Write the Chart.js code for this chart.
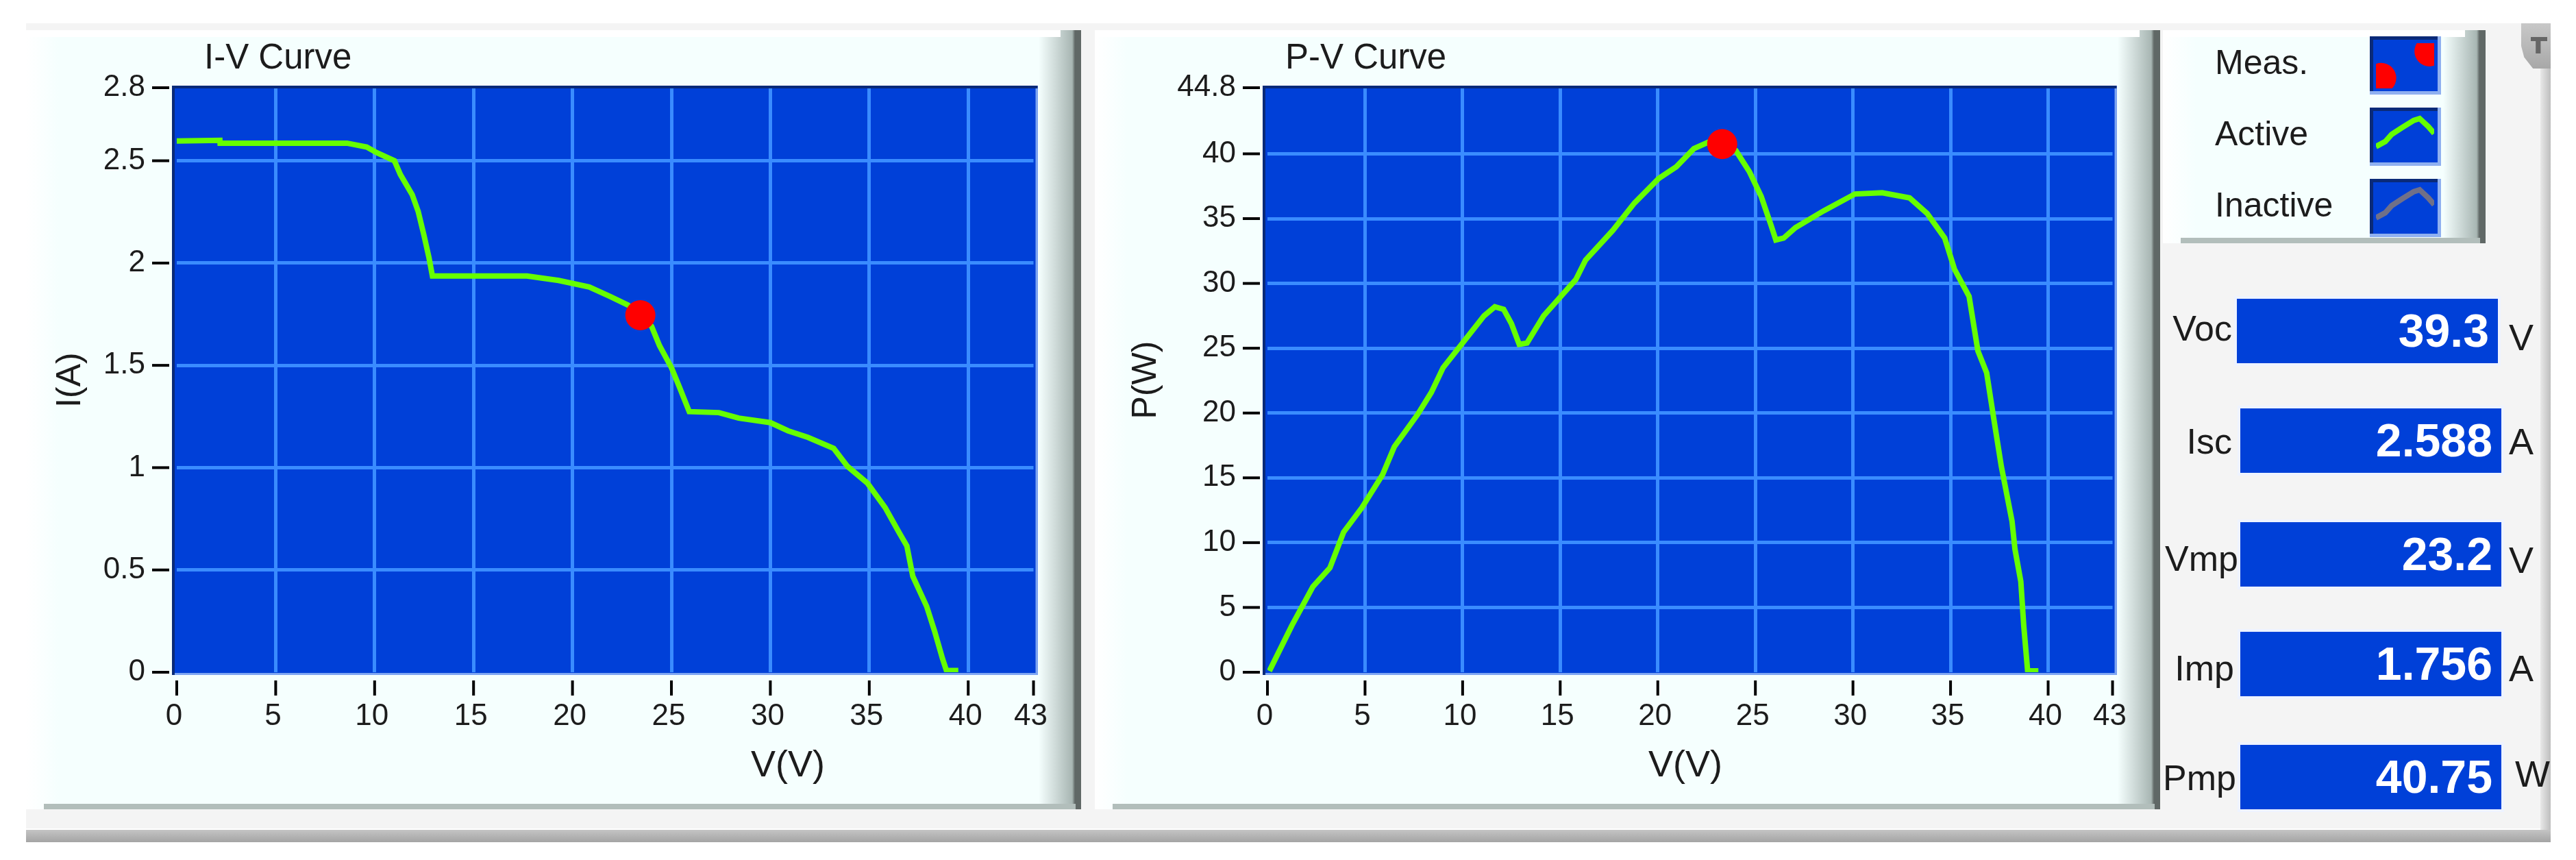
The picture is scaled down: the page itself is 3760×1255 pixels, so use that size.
<!DOCTYPE html>
<html>
<head>
<meta charset="utf-8">
<script src="https://cdn.jsdelivr.net/npm/chart.js@4/dist/chart.umd.min.js"></script>
<style>
html, body { margin: 0; padding: 0; background: #fff; overflow: hidden; }
body { width: 3760px; height: 1255px; position: relative; font-family: "Liberation Sans", Arial, sans-serif; color: #1c1c1c; }
.abs, canvas { position: absolute; }
#backdrop { left: 38px; top: 34px; width: 3685px; height: 1175px; background: #f4f4f4; }
#baseline { left: 38px; top: 1211px; width: 3685px; height: 18px; background: linear-gradient(#c4c4c4, #a4a4a4); }
#rightEdge { left: 3708px; top: 90px; width: 15px; height: 1121px; background: linear-gradient(to right, #e8e8e8, #bebebe); }
#grip { left: 3680px; top: 34px; width: 43px; height: 66px; background: linear-gradient(#c8c8c8, #a8a8a8); clip-path: polygon(0 0, 100% 0, 100% 100%, 40% 100%, 10% 75%, 0 50%); }
#grip span { position: absolute; left: 14px; top: 20px; width: 24px; height: 24px; background: #666; clip-path: polygon(0 0, 100% 0, 100% 25%, 60% 25%, 60% 100%, 30% 100%, 30% 25%, 0 25%); }
.panel { background: linear-gradient(#fff, #fff) top left / calc(100% - 30px) 10px no-repeat, linear-gradient(to right, #fff 0, #f5fffe 48px, #f5fffe calc(100% - 62px), #a8b6b3 calc(100% - 13px), #606866 calc(100% - 9px), #606866 100%); }
.panel i { position: absolute; left: 26px; right: 8px; bottom: 0; height: 8px; background: #b2bebb; }
.label { font-size: 50px; line-height: 50px; white-space: nowrap; }
.bar { width: 381px; height: 94px; background: #0040d8; box-shadow: 0 0 0 4px #eef3ff; color: #fff; font-weight: bold; font-size: 68px; line-height: 92px; text-align: right; }
.bar span { padding-right: 13px; }
</style>
</head>
<body>
<div class="abs" id="backdrop"></div>
<div class="abs" id="baseline"></div>
<div class="abs" id="rightEdge"></div>
<div class="abs" id="grip"><span></span></div>
<div class="abs panel" style="left:38px;top:44px;width:1540px;height:1137px"><i></i></div>
<div class="abs panel" style="left:1598px;top:44px;width:1555px;height:1137px"><i></i></div>
<div class="abs panel" style="left:3157px;top:44px;width:471px;height:311px"><i></i></div>
<canvas id="ivChart" width="1533" height="1133" style="left:38px;top:44px"></canvas>
<canvas id="pvChart" width="1548" height="1133" style="left:1598px;top:44px"></canvas>
<canvas id="swMeas" width="104" height="85" style="left:3459px;top:53px"></canvas>
<canvas id="swActive" width="104" height="85" style="left:3459px;top:157px"></canvas>
<canvas id="swInactive" width="104" height="85" style="left:3459px;top:261px"></canvas>
<div id="readouts"></div>
<script>
/* data */
const ivVolts = [0, 2.18, 2.19, 8.6, 9.6, 10.1, 11, 11.3, 11.9, 12.2, 12.5, 12.75, 12.92, 17.7, 19.3, 20.85, 21.9, 22.8, 23.4, 24, 24.4, 25, 25.4, 25.9, 27.4, 28.4, 30, 30.9, 31.9, 33.2, 33.9, 34.9, 35.8, 36.5, 36.9, 37.2, 37.9, 38.3, 38.7, 38.9, 39.5];
const ivAmps = [2.597, 2.6, 2.586, 2.586, 2.567, 2.54, 2.5, 2.433, 2.334, 2.253, 2.133, 2.025, 1.937, 1.937, 1.915, 1.883, 1.837, 1.795, 1.745, 1.69, 1.596, 1.489, 1.395, 1.274, 1.269, 1.242, 1.22, 1.18, 1.148, 1.094, 1.006, 0.925, 0.805, 0.684, 0.617, 0.469, 0.322, 0.201, 0.067, 0.008, 0.008];
const pvVolts = [0.1, 1.25, 2.33, 3.2, 3.9, 4.84, 5.9, 6.5, 7.7, 8.4, 9, 10, 11.1, 11.65, 12.1, 12.5, 12.9, 13.3, 14.15, 15.8, 16.3, 17.7, 18.8, 20.05, 20.95, 21.85, 22.6, 23.3, 24, 24.7, 25.3, 25.8, 26.05, 26.45, 27.05, 28.5, 30.1, 31.5, 32.9, 33.8, 34.7, 35.2, 35.95, 36.4, 36.85, 37.2, 37.6, 38.15, 38.3, 38.6, 38.75, 38.95, 39.5];
const pvWatts = [0.1, 3.6, 6.6, 8.05, 10.8, 12.7, 15.25, 17.4, 19.9, 21.6, 23.5, 25.4, 27.5, 28.2, 28, 26.9, 25.3, 25.4, 27.5, 30.3, 31.8, 34.1, 36.2, 38.1, 39, 40.4, 40.9, 40.75, 40.25, 38.6, 36.7, 34.5, 33.35, 33.5, 34.3, 35.6, 36.9, 37, 36.6, 35.4, 33.5, 31.1, 29, 24.8, 23.1, 19.7, 15.9, 11.65, 9.5, 7, 3.6, 0.1, 0.1];

const ivMarker = [{ x: 23.43, y: 1.745 }];
const pvMarker = [{ x: 23.3, y: 40.75 }];

/* the top and right ticks sit a little past their printed value */
const xTickValues = [0, 5, 10, 15, 20, 25, 30, 35, 40, 43.3];
const xTickLabels = ["0", "5", "10", "15", "20", "25", "30", "35", "40", "43"];
const ivTickValues = [0, 0.5, 1, 1.5, 2, 2.5, 2.857];
const ivTickLabels = ["0", "0.5", "1", "1.5", "2", "2.5", "2.8"];
const pvTickValues = [0, 5, 10, 15, 20, 25, 30, 35, 40, 45.1];
const pvTickLabels = ["0", "5", "10", "15", "20", "25", "30", "35", "40", "44.8"];

const legendLabels = ["Meas.", "Active", "Inactive"];
const legendTops = [66, 170, 274];
const swatchX = [0, 0.16, 0.27, 0.45, 0.65, 0.75, 0.9, 1];
const swatchY = [0.29, 0.4, 0.56, 0.71, 0.87, 0.91, 0.73, 0.58];
const swatchDots = [{ x: 0.09, y: 0.23 }, { x: 0.92, y: 0.82 }];

const readoutNames = ["Voc", "Isc", "Vmp", "Imp", "Pmp"];
const readoutValues = ["39.3", "2.588", "23.2", "1.756", "40.75"];
const readoutUnits = ["V", "A", "V", "A", "W"];
const readoutTops = [436, 596, 762, 922, 1087];
const barLefts = [3265, 3270, 3270, 3270, 3270];
const nameRights = [3258, 3258, 3267, 3261, 3264];
const nameCenters = [479, 644, 815, 975, 1135];
const unitLefts = [3662, 3662, 3662, 3662, 3671];
const unitCenters = [492, 644, 817, 975, 1129];

const PLOT_BG = "#0040d8";
const GRID = "#3a8cff";
const LINE = "#66ff00";
const MARK = "#ff0000";
const FONT = '"Liberation Sans", Arial, sans-serif';

/* plot background, frame, detached tick marks and the loose text */
const panelDecor = {
    id: "panelDecor",
    beforeDraw(chart) {
        const a = chart.chartArea, ctx = chart.ctx;
        ctx.save();
        ctx.fillStyle = PLOT_BG;
        ctx.fillRect(a.left - 7, a.top - 3, a.right - a.left + 13, a.bottom - a.top + 7);
        ctx.restore();
    },
    afterDatasetsDraw(chart, args, opts) {
        const a = chart.chartArea, ctx = chart.ctx;
        ctx.save();
        ctx.fillStyle = "#0a2a78";
        ctx.fillRect(a.left - 7, a.top - 3, a.right - a.left + 13, 4);
        ctx.fillRect(a.left - 7, a.top - 3, 4, a.bottom - a.top + 7);
        ctx.fillStyle = "#7fa6f2";
        ctx.fillRect(a.right + 3, a.top + 1, 3, a.bottom - a.top + 3);
        ctx.fillRect(a.left - 3, a.bottom + 1, a.right - a.left + 9, 3);

        ctx.fillStyle = "#000";
        chart.scales.x.ticks.forEach(t => {
            ctx.fillRect(chart.scales.x.getPixelForValue(t.value) - 2, a.bottom + 12, 4, 22);
        });
        chart.scales.y.ticks.forEach(t => {
            ctx.fillRect(a.left - 36, chart.scales.y.getPixelForValue(t.value) - 2, 25, 4);
        });

        ctx.fillStyle = "#1c1c1c";
        ctx.textBaseline = "middle";
        ctx.textAlign = "left";
        ctx.font = "51px " + FONT;
        ctx.fillText(opts.title, opts.titleLeft, 42);
        ctx.textAlign = "center";
        ctx.font = "54px " + FONT;
        ctx.fillText("V(V)", opts.xTitleCenter, 1074);
        ctx.restore();
    }
};

function makeCurveChart(id, xs, ys, marker, yMax, yTicks, yLabels, yTitle, padLeft, yWidth, padRight, title, titleLeft, xTitleCenter) {
    return new Chart(document.getElementById(id), {
        type: "line",
        data: {
            datasets: [{
                data: marker,
                showLine: false,
                pointRadius: 22,
                pointBackgroundColor: MARK,
                pointBorderWidth: 0,
                order: 0
            }, {
                data: xs.map((x, i) => ({ x: x, y: ys[i] })),
                borderColor: LINE,
                borderWidth: 8,
                pointRadius: 0,
                tension: 0,
                order: 1
            }]
        },
        options: {
            responsive: false,
            animation: false,
            devicePixelRatio: 1,
            layout: { padding: { left: padLeft, right: padRight, top: 84, bottom: 0 } },
            plugins: {
                legend: { display: false },
                tooltip: { enabled: false },
                panelDecor: { title: title, titleLeft: titleLeft, xTitleCenter: xTitleCenter }
            },
            scales: {
                x: {
                    type: "linear",
                    min: 0,
                    max: xTickValues[xTickValues.length - 1],
                    afterBuildTicks: s => { s.ticks = xTickValues.map(v => ({ value: v })); },
                    afterFit: s => { s.height = 196; },
                    grid: {
                        drawTicks: false,
                        lineWidth: 5,
                        color: c => (c.index === 0 || c.index === xTickValues.length - 1) ? "transparent" : GRID
                    },
                    border: { display: false },
                    ticks: {
                        padding: 38,
                        autoSkip: false,
                        maxRotation: 0,
                        labelOffset: -4,
                        color: "#1c1c1c",
                        font: { size: 44, family: FONT },
                        callback: (v, i) => xTickLabels[i]
                    }
                },
                y: {
                    min: 0,
                    max: yMax,
                    afterBuildTicks: s => { s.ticks = yTicks.map(v => ({ value: v })); },
                    afterFit: s => { s.width = yWidth; },
                    grid: {
                        drawTicks: false,
                        lineWidth: 5,
                        color: c => (c.index === 0 || c.index === yTicks.length - 1) ? "transparent" : GRID
                    },
                    border: { display: false },
                    title: {
                        display: true,
                        text: yTitle,
                        color: "#1c1c1c",
                        padding: 0,
                        font: { size: 50, family: FONT }
                    },
                    ticks: {
                        padding: 46,
                        autoSkip: false,
                        color: "#1c1c1c",
                        font: { size: 44, family: FONT },
                        callback: (v, i) => yLabels[i]
                    }
                }
            }
        },
        plugins: [panelDecor]
    });
}

/* tiny legend swatches are small charts too */
function makeSwatch(id, datasets) {
    return new Chart(document.getElementById(id), {
        type: "line",
        data: { datasets: datasets },
        options: {
            responsive: false,
            animation: false,
            devicePixelRatio: 1,
            // autoPadding would shrink the area around the big dots
            layout: { autoPadding: false, padding: { left: 9, right: 10, top: 10, bottom: 9 } },
            plugins: { legend: { display: false }, tooltip: { enabled: false } },
            scales: {
                x: { type: "linear", min: 0, max: 1, display: false },
                y: { min: 0, max: 1, display: false }
            }
        },
        plugins: [{
            id: "swatchBg",
            beforeDraw(chart) {
                const ctx = chart.ctx, w = chart.width, h = chart.height;
                ctx.fillStyle = PLOT_BG;
                ctx.fillRect(0, 0, w, h);
                ctx.fillStyle = "#8fb0f0";
                ctx.fillRect(w - 5, 0, 5, h);
                ctx.fillRect(0, h - 5, w, 5);
                ctx.fillStyle = "#0a2a78";
                ctx.fillRect(0, 0, w - 5, 5);
                ctx.fillRect(0, 0, 5, h - 5);
            }
        }]
    });
}

const swatchLine = color => [{
    data: swatchX.map((x, i) => ({ x: x, y: swatchY[i] })),
    borderColor: color,
    borderWidth: 8,
    pointRadius: 0
}];

makeCurveChart("ivChart", ivVolts, ivAmps, ivMarker, ivTickValues[ivTickValues.length - 1], ivTickValues, ivTickLabels, "I(A)", 35, 185, 60, "I-V Curve", 260, 1112);
makeCurveChart("pvChart", pvVolts, pvWatts, pvMarker, pvTickValues[pvTickValues.length - 1], pvTickValues, pvTickLabels, "P(W)", 45, 207, 61, "P-V Curve", 278, 862);

makeSwatch("swMeas", [{ data: swatchDots, showLine: false, pointRadius: 22, pointBackgroundColor: MARK, pointBorderWidth: 0 }]);
makeSwatch("swActive", swatchLine(LINE));
makeSwatch("swInactive", swatchLine("#707088"));

/* legend labels and the read-out column */
const host = document.getElementById("readouts");

function addText(text, style, cls) {
    const el = document.createElement("div");
    el.className = "abs " + cls;
    el.style.cssText = style;
    el.textContent = text;
    host.appendChild(el);
    return el;
}

legendLabels.forEach((name, i) => {
    addText(name, `left:3233px;top:${legendTops[i]}px`, "label");
});

readoutNames.forEach((name, i) => {
    const bar = addText("", `top:${readoutTops[i]}px;left:${barLefts[i]}px`, "bar");
    const span = document.createElement("span");
    span.textContent = readoutValues[i];
    bar.appendChild(span);
    addText(name, `right:${3760 - nameRights[i]}px;top:${nameCenters[i] - 25}px;font-size:52px`, "label");
    addText(readoutUnits[i], `left:${unitLefts[i]}px;top:${unitCenters[i] - 25}px;font-size:54px`, "label");
});
</script>
</body>
</html>
